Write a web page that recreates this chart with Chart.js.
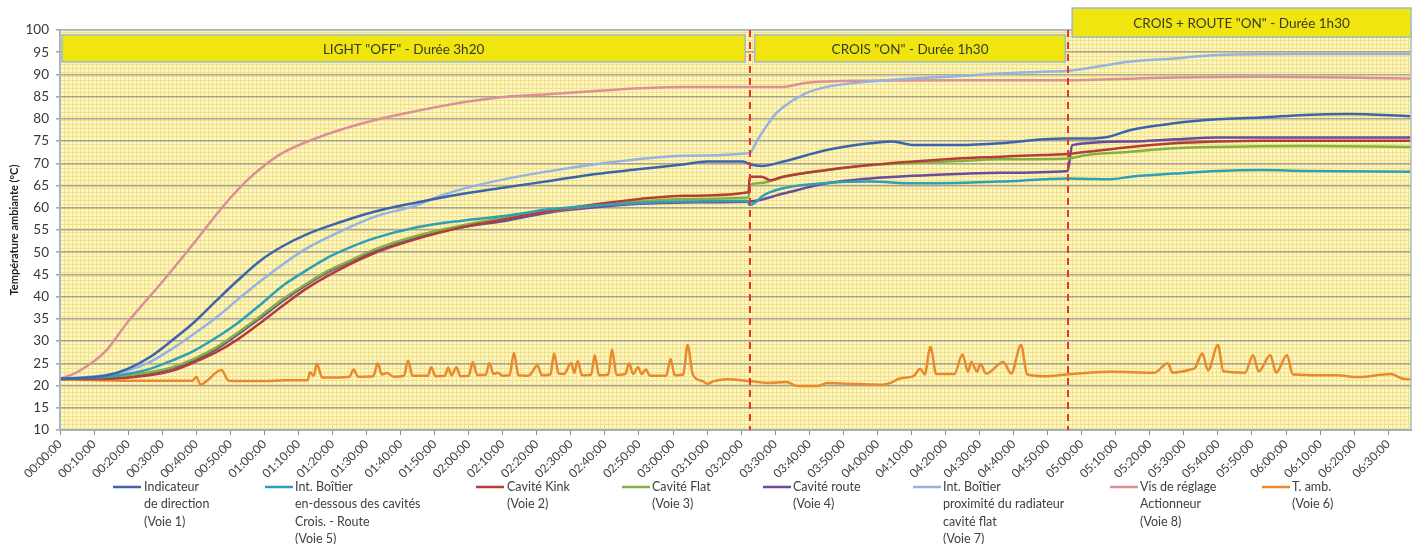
<!DOCTYPE html>
<html>
<head>
<meta charset="utf-8">
<script src="https://cdn.jsdelivr.net/npm/chart.js@4.4.1/dist/chart.umd.min.js"></script>
<style>
  html, body { margin: 0; padding: 0; background: #ffffff; }
  #wrap { width: 1420px; height: 544px; position: relative; }
</style>
</head>
<body>
<div id="wrap"><canvas id="c" width="1420" height="544"></canvas></div>
<script>
// ---------- DATA (time in minutes, temperature in °C) ----------
const labelVoie1 = ["Indicateur", "de direction", "(Voie 1)"];
const labelVoie5 = ["Int. Boîtier", "en-dessous des cavités", "Crois. - Route", "(Voie 5)"];
const labelVoie2 = ["Cavité Kink", "(Voie 2)"];
const labelVoie3 = ["Cavité Flat", "(Voie 3)"];
const labelVoie4 = ["Cavité route", "(Voie 4)"];
const labelVoie7 = ["Int. Boîtier", "proximité du radiateur", "cavité flat", "(Voie 7)"];
const labelVoie8 = ["Vis de réglage", "Actionneur", "(Voie 8)"];
const labelVoie6 = ["T. amb.", "(Voie 6)"];

const tVoie1 = [0, 13.1, 19.7, 26.2, 32.8, 39.3, 45.9, 52.4, 59, 65.5, 72.1, 78.6, 91.7, 104.8, 118, 131, 144.2, 157.3, 170.4, 183.5, 190, 200.5, 202.5, 206, 212.4, 225.15, 237.9, 244.3, 250.65, 263.4, 276.15, 288.9, 295.3, 301.65, 308, 314.4, 327.15, 339.9, 352.65, 365.4, 378.15, 396.6];
const vVoie1 = [21.5, 22.2, 23.7, 26.3, 30.1, 34.2, 39.1, 43.8, 48.2, 51.4, 53.9, 55.8, 59, 61.2, 63.1, 64.6, 66.1, 67.6, 68.7, 69.8, 70.4, 70.4, 69.8, 69.4, 70.4, 73, 74.5, 74.9, 74.1, 74.1, 74.5, 75.4, 75.6, 75.6, 76, 77.5, 79, 79.9, 80.3, 80.9, 81.1, 80.6];

const tVoie5 = [0, 13.1, 19.7, 26.2, 32.8, 39.3, 45.9, 52.4, 59, 65.5, 72.1, 78.6, 85.2, 91.7, 104.8, 118, 131, 144.2, 157.3, 170.4, 183.5, 201.8, 202.5, 204.75, 206, 212.4, 225.15, 237.9, 250.65, 263.4, 276.15, 288.9, 295.9, 301.65, 308, 314.4, 327.15, 339.9, 352.65, 365.4, 396.6];
const vVoie5 = [21.5, 21.9, 22.6, 23.7, 25.6, 27.8, 30.8, 34.2, 38.3, 42.5, 45.8, 48.8, 51.1, 53, 55.6, 57.1, 58.2, 59.7, 60.5, 61.1, 61.4, 61.6, 60.6, 61.5, 62.5, 64.4, 65.6, 65.9, 65.5, 65.6, 65.9, 66.4, 66.6, 66.5, 66.4, 67, 67.7, 68.3, 68.5, 68.3, 68.1];

const tVoie2 = [0, 13.1, 26.2, 32.8, 39.3, 45.9, 52.4, 59, 65.5, 72.1, 78.6, 91.7, 104.8, 118, 131, 144.2, 157.3, 170.4, 183.5, 202.2, 202.5, 206, 208.6, 212.4, 225.15, 237.9, 250.65, 263.4, 276.15, 288.9, 295.9, 301.65, 314.4, 327.15, 339.9, 352.65, 396.6];
const vVoie2 = [21.5, 21.5, 22.3, 23.3, 25.2, 27.5, 30.5, 34.2, 38, 41.7, 44.7, 49.6, 53, 55.6, 57.5, 59.3, 60.8, 62, 62.7, 63.5, 67, 67, 66.2, 67, 68.5, 69.6, 70.4, 71.1, 71.5, 71.9, 72.1, 72.6, 73.7, 74.5, 74.9, 75.1, 75.1];

const tVoie3 = [0, 13.1, 26.2, 32.8, 39.3, 45.9, 52.4, 59, 65.5, 72.1, 78.6, 85.2, 91.7, 104.8, 118, 131, 144.2, 157.3, 170.4, 183.5, 202.2, 202.5, 206, 212.4, 225.15, 237.9, 250.65, 263.4, 276.15, 295.9, 301.65, 314.4, 327.15, 339.9, 365.4, 396.6];
const vVoie3 = [21.5, 21.7, 23, 24.1, 26, 28.6, 32, 35.7, 39.5, 42.8, 45.8, 48.1, 50.4, 53.7, 56, 57.8, 59.3, 60.5, 61.4, 62, 62.3, 65.1, 65.6, 67, 68.5, 69.6, 70.1, 70.5, 70.9, 71.1, 71.9, 72.6, 73.4, 73.7, 73.9, 73.7];

const tVoie4 = [0, 13.1, 26.2, 32.8, 39.3, 45.9, 52.4, 59, 65.5, 72.1, 78.6, 91.7, 104.8, 118, 131, 144.2, 157.3, 170.4, 183.5, 202.5, 212.4, 225.15, 237.9, 250.65, 263.4, 276.15, 295.9, 297.2, 314.4, 327.15, 339.9, 396.6];
const vVoie4 = [21.5, 21.6, 22.6, 23.8, 25.6, 28.2, 31.6, 35.3, 39.1, 42.5, 45.5, 50, 53.3, 55.6, 57.1, 59, 60.1, 60.9, 61.2, 61.4, 63.2, 65.5, 66.6, 67.2, 67.6, 67.9, 68.3, 74.1, 74.9, 75.4, 75.8, 75.8];

const tVoie7 = [0, 13.1, 19.7, 26.2, 32.8, 39.3, 45.9, 52.4, 59, 65.5, 72.1, 78.6, 91.7, 104.8, 111.4, 118, 131, 144.2, 157.3, 170.4, 183.5, 202.5, 204.75, 207.3, 209.85, 212.4, 218.8, 225.15, 237.9, 250.65, 263.4, 276.15, 288.9, 295.3, 301.65, 314.4, 327.15, 339.9, 365.4, 396.6];
const vVoie7 = [21.5, 22.3, 23.3, 25.2, 28.2, 31.6, 35.3, 39.5, 43.6, 47.3, 50.7, 53.3, 57.8, 60.6, 62.6, 64.2, 66.5, 68.3, 69.8, 71, 71.7, 72.3, 75.2, 78.2, 80.9, 82.7, 85.7, 87.2, 88.4, 89.1, 89.6, 90.2, 90.6, 90.8, 91.4, 92.9, 93.6, 94.4, 94.6, 94.6];

const tVoie8 = [0, 5, 13.1, 19.9, 30, 40, 45, 50, 55, 59, 65.5, 78.6, 91.7, 104.8, 118, 131, 144.2, 157.3, 170.4, 183.5, 202.5, 212.4, 218.8, 237.9, 263.4, 295.9, 327.15, 352.65, 396.6];
const vVoie8 = [21.5, 23, 27.5, 34.3, 43.3, 52.7, 57.6, 62.2, 66.2, 68.9, 72.4, 76.6, 79.6, 81.8, 83.7, 85, 85.6, 86.3, 86.9, 87.2, 87.2, 87.2, 88.1, 88.6, 88.7, 88.7, 89.3, 89.5, 89.1];

const tVoie6 = [0, 20, 39, 40, 41.3, 43, 47.4, 49.5, 60, 66, 72.7, 73.4, 74.5, 75.4, 77, 85, 86.2, 87.5, 92, 93.3, 94.5, 96, 98, 101, 102.2, 103.5, 108, 109, 110.3, 113, 114, 115, 116.4, 117.6, 120, 121.2, 122.5, 125, 126.1, 127.3, 128.5, 130, 132, 133.3, 134.6, 137, 138, 140.2, 141.5, 144, 145.1, 146.4, 148, 150.1, 151, 152, 153.3, 156, 157, 158.3, 161, 162.1, 163.4, 166, 167.1, 168.3, 169.7, 170.8, 172, 173.3, 178, 179.3, 180.5, 183, 184.3, 185.8, 188.7, 190, 192, 195.9, 202.6, 207.9, 213.3, 216.6, 222.6, 225.3, 231.9, 241.3, 243.9, 246.6, 250.6, 252.6, 253.9, 255.6, 257.3, 262.6, 265, 266.6, 267.6, 269.3, 270.2, 272, 277, 279.3, 282.2, 284, 289.3, 295.7, 308, 321.3, 325.3, 326.7, 332, 333.3, 335.4, 337.1, 340, 341.6, 348, 350.3, 352, 355.4, 357.1, 360.3, 362, 374.7, 381.4, 390.7, 394.1, 396.6];
const vVoie6 = [21.4, 21.1, 21.1, 22.0, 20.2, 21.0, 23.5, 21.1, 21.0, 21.2, 21.2, 23.0, 22.2, 24.9, 21.8, 22.0, 23.6, 22.0, 22.1, 25.0, 22.5, 22.8, 22.0, 22.2, 25.6, 22.2, 22.2, 24.1, 22.1, 22.2, 24.0, 22.3, 24.1, 22.1, 22.2, 25.3, 22.4, 22.4, 25.1, 22.6, 22.9, 22.2, 22.3, 27.3, 22.3, 22.2, 22.4, 24.5, 22.3, 22.5, 27.2, 22.7, 22.6, 25.1, 22.8, 25.5, 22.3, 22.5, 26.8, 22.3, 22.5, 28.1, 22.4, 22.6, 25.0, 22.6, 24.1, 22.6, 23.6, 22.2, 22.2, 26.0, 22.3, 22.5, 29.1, 22.5, 21.0, 20.4, 21.0, 21.4, 21.0, 20.6, 20.8, 19.9, 19.9, 20.6, 20.4, 20.2, 20.6, 21.6, 22.1, 23.8, 22.5, 28.7, 22.6, 22.6, 27.0, 23.1, 25.3, 23.1, 24.9, 22.7, 25.3, 22.7, 29.1, 22.5, 22.1, 22.5, 23.1, 22.9, 25.0, 22.9, 23.6, 24.0, 27.2, 23.4, 29.1, 23.2, 22.9, 26.8, 23.2, 26.8, 22.9, 26.8, 22.5, 22.3, 21.9, 22.6, 21.6, 21.4];

// phase markers (minutes) and phase titles
const phaseChanges = [202.5, 296];
const phaseTitles = ['LIGHT "OFF" - Durée 3h20', 'CROIS "ON" - Durée 1h30', 'CROIS + ROUTE "ON" - Durée 1h30'];

// x tick positions (minutes) every 10 min
const xTickMinutes = [];
for (let m = 0; m <= 390; m += 10) xTickMinutes.push(m);

// ---------- helpers ----------
function pts(t, v) { return t.map((x, i) => ({ x: x, y: v[i] })); }
function fmt(m) {
  const h = Math.floor(m / 60), mm = Math.round(m % 60);
  return String(h).padStart(2, '0') + ':' + String(mm).padStart(2, '0') + ':00';
}

const series = [
  { label: labelVoie1, t: tVoie1, v: vVoie1, color: '#3c64ad' },
  { label: labelVoie5, t: tVoie5, v: vVoie5, color: '#2f9fb6' },
  { label: labelVoie2, t: tVoie2, v: vVoie2, color: '#b23e3a' },
  { label: labelVoie3, t: tVoie3, v: vVoie3, color: '#86b044' },
  { label: labelVoie4, t: tVoie4, v: vVoie4, color: '#6b4b9c' },
  { label: labelVoie7, t: tVoie7, v: vVoie7, color: '#94b3e2' },
  { label: labelVoie8, t: tVoie8, v: vVoie8, color: '#da9096' },
  { label: labelVoie6, t: tVoie6, v: vVoie6, color: '#e8892f' }
];

// legend layout (pixel positions of each entry: line start, text start)
const legendLayout = [
  { lx: 113, tx: 144 }, { lx: 265, tx: 295 }, { lx: 476, tx: 507 }, { lx: 622, tx: 652 },
  { lx: 763, tx: 793 }, { lx: 913, tx: 943 }, { lx: 1110, tx: 1140 }, { lx: 1262, tx: 1292 }
];

// banner geometry in scale units: [xFrom, xTo, yTop, yBottom]
const bannerBoxes = [
  [0.6, 201.2, 98.9, 92.8],
  [204.0, 295.2, 98.9, 92.8],
  [297.2, 396.7, 104.95, 98.4]
];

// background pattern (Excel-like fine grid)
function makePattern(ctx) {
  const c = document.createElement('canvas');
  c.width = 4; c.height = 4;
  const g = c.getContext('2d');
  g.fillStyle = '#fdf7c6';
  g.fillRect(0, 0, 4, 4);
  g.fillStyle = '#f2e285';
  g.fillRect(0, 0, 4, 1);
  g.fillRect(0, 0, 1, 4);
  return ctx.createPattern(c, 'repeat');
}

const decorPlugin = {
  id: 'decor',
  beforeDraw(chart) {
    const { ctx, chartArea: a } = chart;
    ctx.save();
    ctx.fillStyle = makePattern(ctx);
    ctx.fillRect(a.left, a.top, a.right - a.left, a.bottom - a.top);
    ctx.restore();
  },
  afterDatasetsDraw(chart) {
    const { ctx, chartArea: a, scales } = chart;
    const xs = scales.x, ys = scales.y;
    ctx.save();
    // plot border
    ctx.strokeStyle = '#a9bccb';
    ctx.lineWidth = 1.5;
    ctx.strokeRect(a.left, a.top, a.right - a.left, a.bottom - a.top);
    // dashed phase lines
    ctx.strokeStyle = '#e8352b';
    ctx.lineWidth = 2;
    ctx.setLineDash([7, 5]);
    phaseChanges.forEach(m => {
      const x = Math.round(xs.getPixelForValue(m));
      ctx.beginPath();
      ctx.moveTo(x, a.top);
      ctx.lineTo(x, a.bottom);
      ctx.stroke();
    });
    ctx.setLineDash([]);
    // banners
    bannerBoxes.forEach((b, i) => {
      const x1 = xs.getPixelForValue(b[0]), x2 = xs.getPixelForValue(b[1]);
      const y1 = ys.getPixelForValue(b[2]), y2 = ys.getPixelForValue(b[3]);
      ctx.fillStyle = '#f1e50f';
      ctx.fillRect(x1, y1, x2 - x1, y2 - y1);
      ctx.strokeStyle = '#9fb9cc';
      ctx.lineWidth = 1.5;
      ctx.strokeRect(x1, y1, x2 - x1, y2 - y1);
      ctx.fillStyle = '#3a3a2a';
      ctx.font = '13.5px Lato, "Open Sans", sans-serif';
      ctx.textAlign = 'center';
      ctx.textBaseline = 'middle';
      ctx.fillText(phaseTitles[i], (x1 + x2) / 2, (y1 + y2) / 2 + 1);
    });
    ctx.restore();
  },
  afterDraw(chart) {
    const { ctx } = chart;
    ctx.save();
    ctx.font = '12.5px Lato, "Open Sans", sans-serif';
    ctx.textBaseline = 'middle';
    ctx.textAlign = 'left';
    chart.data.datasets.forEach((ds, i) => {
      const p = legendLayout[i];
      ctx.strokeStyle = ds.borderColor;
      ctx.lineWidth = 2.5;
      ctx.beginPath();
      ctx.moveTo(p.lx, 487);
      ctx.lineTo(p.lx + 28, 487);
      ctx.stroke();
      ctx.fillStyle = '#404040';
      ds.label.forEach((line, j) => ctx.fillText(line, p.tx, 487 + j * 17.3));
    });
    ctx.restore();
  }
};

new Chart(document.getElementById('c'), {
  type: 'line',
  data: {
    datasets: series.map(s => ({
      label: s.label,
      data: pts(s.t, s.v),
      borderColor: s.color,
      backgroundColor: s.color,
      borderWidth: 2.5,
      pointRadius: 0,
      cubicInterpolationMode: 'monotone',
      fill: false
    }))
  },
  options: {
    responsive: false,
    animation: false,
    layout: { padding: { top: 30, right: 9, left: 0, bottom: 0 } },
    plugins: { legend: { display: false }, tooltip: { enabled: false } },
    scales: {
      x: {
        type: 'linear',
        min: 0,
        max: 396.7,
        afterBuildTicks(scale) { scale.ticks = xTickMinutes.map(v => ({ value: v })); },
        afterFit(scale) { scale.height = 114; },
        ticks: {
          autoSkip: false,
          minRotation: 45,
          maxRotation: 45,
          padding: 2,
          color: '#404040',
          font: { family: 'Lato, "Open Sans", sans-serif', size: 12 },
          callback: v => fmt(v)
        },
        grid: { drawOnChartArea: false, drawTicks: true, tickLength: 5, color: '#8c8c8c' },
        border: { display: true, color: '#8c8c8c', width: 2 }
      },
      y: {
        min: 10,
        max: 100,
        afterFit(scale) { scale.width = 60; },
        ticks: {
          stepSize: 5,
          padding: 7,
          color: '#383838',
          font: { family: 'Lato, "Open Sans", sans-serif', size: 13.5 }
        },
        grid: { color: 'rgba(140,140,140,0.75)', lineWidth: 1.6, tickLength: 4, drawTicks: true },
        border: { display: true, color: '#8c8c8c', width: 1.5 },
        title: {
          display: true,
          text: 'Température ambiante (°C)',
          color: '#222222',
          padding: { top: 8, bottom: 0 },
          font: { family: 'Lato, "Open Sans", sans-serif', size: 11, weight: 'bold' }
        }
      }
    }
  },
  plugins: [decorPlugin]
});
</script>
</body>
</html>
